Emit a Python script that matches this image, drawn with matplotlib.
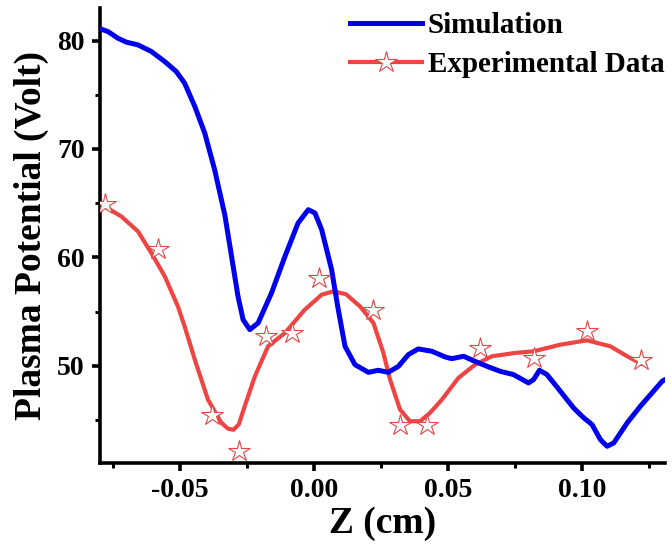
import numpy as np
import matplotlib
matplotlib.use('Agg')
import matplotlib.pyplot as plt
from matplotlib.lines import Line2D
from matplotlib.ticker import MultipleLocator

# ---------- Input ----------

# Simulation curve
sim_z = [-0.0793, -0.0768, -0.0731, -0.0699, -0.0656, -0.0606, -0.0556, -0.0513,
         -0.0482, -0.0444, -0.0407, -0.0370, -0.0332, -0.0307, -0.0283, -0.0264,
         -0.0239, -0.0208, -0.0158, -0.0108, -0.0059, -0.0021, 0.0004, 0.0029,
         0.0066, 0.0090,
         0.0116, 0.0153, 0.0203, 0.0240, 0.0277, 0.0315, 0.0352, 0.0389,
         0.0440, 0.0489, 0.0514, 0.0558, 0.0601, 0.0651, 0.0695, 0.0744,
         0.0800, 0.0819, 0.0841, 0.0869, 0.0919, 0.0968, 0.1006, 0.1037,
         0.1068, 0.1093, 0.1118, 0.1168, 0.1217, 0.1298, 0.1310]
sim_v = [81.05, 80.83, 80.22, 79.85, 79.60, 78.99, 78.06, 77.14,
         76.07, 73.92, 71.47, 68.08, 63.90, 60.09, 56.41, 54.26,
         53.34, 53.95, 56.72, 60.09, 63.17, 64.40, 64.09, 62.55,
         58.87, 55.30,
         51.80, 50.11, 49.40, 49.59, 49.40, 49.95, 51.03, 51.56,
         51.34, 50.82, 50.66, 50.88, 50.41, 49.90, 49.49, 49.19,
         48.42, 48.73, 49.59, 49.19, 47.65, 46.12, 45.20, 44.58,
         43.20, 42.58, 42.89, 44.74, 46.27, 48.57, 48.75]

# Experimental fitted curve
fit_z = [-0.0780, -0.0718, -0.0656, -0.0606, -0.0556, -0.0507, -0.0482, -0.0444,
         -0.0395, -0.0345, -0.0320, -0.0300, -0.0280, -0.0258, -0.0220, -0.0171,
         -0.0108, -0.0034, 0.0029, 0.0072, 0.0120, 0.0172, 0.0222, 0.0259,
         0.0284, 0.0321, 0.0358, 0.0396, 0.0433, 0.0477, 0.0539, 0.0601,
         0.0664, 0.0751, 0.0819, 0.0919, 0.1018, 0.1105, 0.1168, 0.1224]
fit_v = [64.70, 63.78, 62.40, 60.40, 58.25, 55.48, 53.64, 50.57,
         46.88, 44.74, 44.20, 44.10, 44.60, 46.27, 49.03, 51.80,
         53.03, 55.18, 56.56, 56.87, 56.60, 55.48, 53.95, 51.19,
         48.73, 45.97, 44.89, 44.89, 45.66, 46.88, 48.89, 50.11,
         50.88, 51.19, 51.34, 51.95, 52.35, 51.80, 50.88, 50.15]

# Experimental points
exp_z = [-0.078, -0.058, -0.038, -0.028, -0.018, -0.008, 0.002,
         0.022, 0.032, 0.042, 0.062, 0.082, 0.102, 0.122]
exp_v = [64.95, 60.75, 45.49, 42.18, 52.72, 53.06, 58.10,
         55.18, 44.52, 44.52, 51.65, 50.73, 53.18, 50.51]

blue = '#0000EE'
red = '#EE4444'
star_edge = '#E04848'

# ---------- Plot ----------

plt.rcParams['font.family'] = 'Liberation Serif'
plt.rcParams['font.weight'] = 'bold'
plt.rcParams['axes.unicode_minus'] = False

fig = plt.figure(figsize=(6.72, 5.53), dpi=100)
ax = fig.add_axes([0.149, 0.163, 0.841, 0.8225])

ax.plot(fit_z, fit_v, color=red, lw=3.0, solid_capstyle='round', solid_joinstyle='round', zorder=2)
ax.plot(sim_z, sim_v, color=blue, lw=3.6, solid_capstyle='round', solid_joinstyle='round', zorder=3)
ax.plot(exp_z, exp_v, ls='none', marker='*', ms=16, mfc='white', mec=star_edge, mew=0.8, zorder=4)

ax.set_xlim(-0.0797, 0.131)
ax.set_ylim(41.05, 83.0)

ax.xaxis.set_major_locator(MultipleLocator(0.05))
ax.xaxis.set_minor_locator(MultipleLocator(0.025))
ax.yaxis.set_major_locator(MultipleLocator(10))
ax.yaxis.set_minor_locator(MultipleLocator(5))
ax.xaxis.set_major_formatter(matplotlib.ticker.FormatStrFormatter('%.2f'))

for s in ['top', 'right']:
    ax.spines[s].set_visible(False)
for s in ['left', 'bottom']:
    ax.spines[s].set_linewidth(2.6)

ax.tick_params(which='major', direction='out', length=6, width=2.6, labelsize=20, pad=5)
ax.tick_params(which='minor', direction='out', length=3.5, width=2.2)
for lab in ax.get_xticklabels() + ax.get_yticklabels():
    lab.set_fontweight('bold')

ax.set_xlabel('Z (cm)', fontsize=27, fontweight='bold', labelpad=2)
ax.set_ylabel('Plasma Potential (Volt)', fontsize=27, fontweight='bold', labelpad=6)

handles = [Line2D([], [], color=blue, lw=3.6),
           Line2D([], [], color=red, lw=3.0, marker='*', ms=16, mfc='white', mec=star_edge, mew=0.8)]
leg = fig.legend(handles, ['Simulation', 'Experimental Data'], loc='upper left',
                 bbox_to_anchor=(0.521, 0.978), frameon=False, fontsize=21,
                 handlelength=2.47, handletextpad=0.2, labelspacing=0.4,
                 borderpad=0, borderaxespad=0)
for t in leg.get_texts():
    t.set_fontweight('bold')

plt.savefig('out.png', dpi=100)
